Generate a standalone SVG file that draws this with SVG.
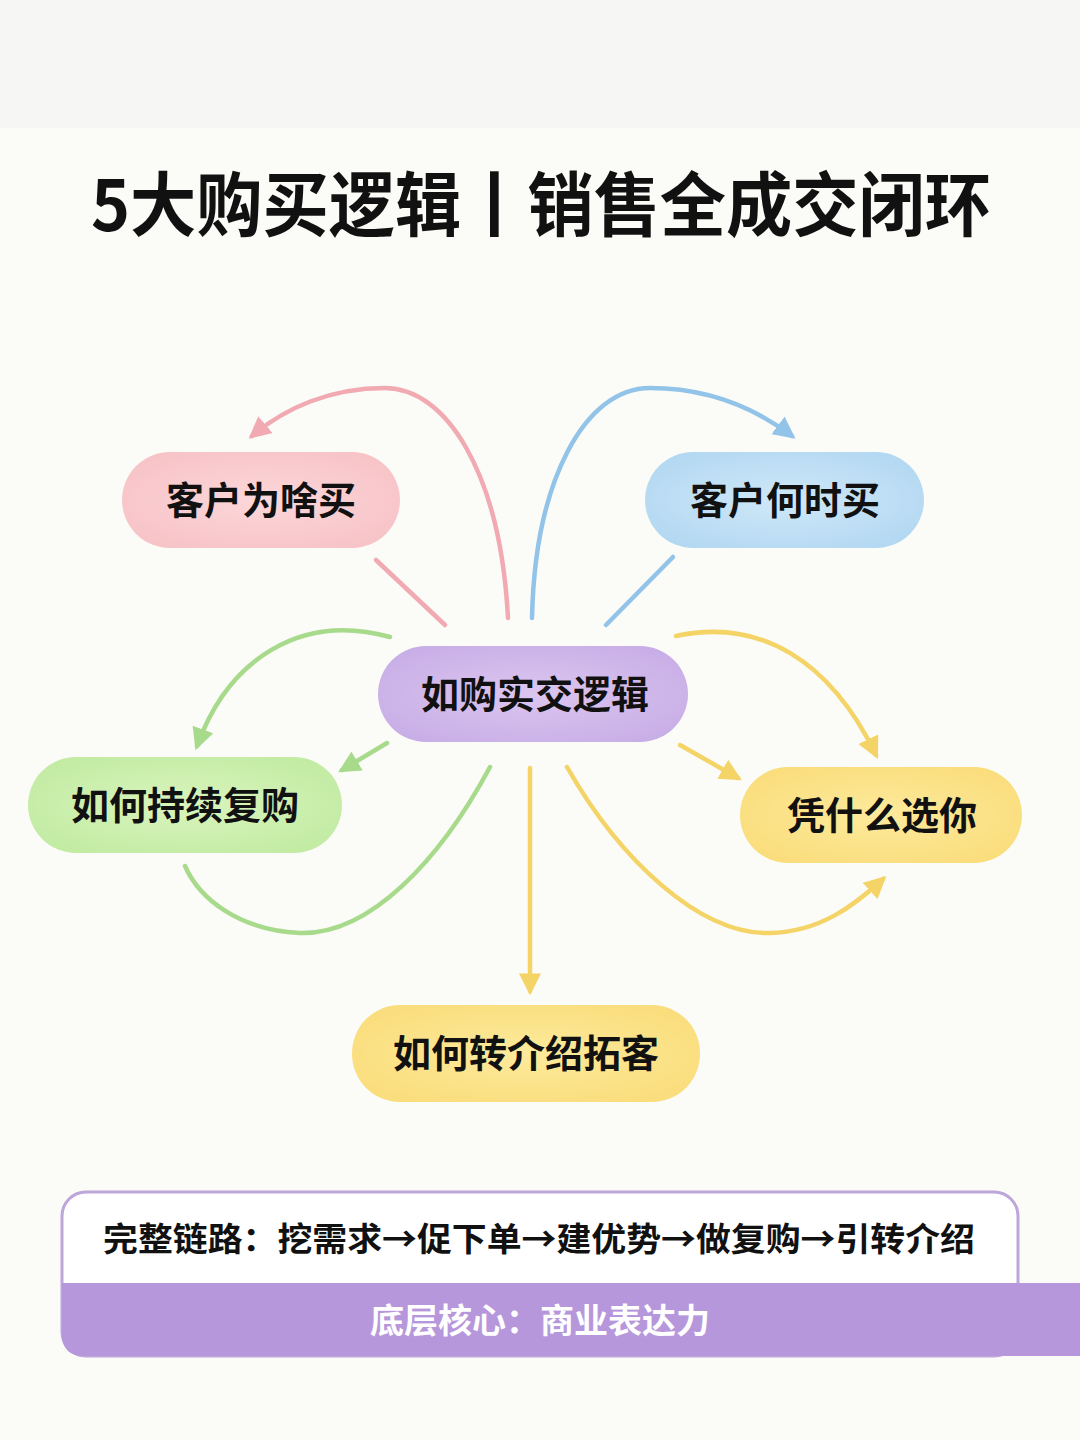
<svg xmlns="http://www.w3.org/2000/svg" width="1080" height="1440" viewBox="0 0 1080 1440">
<defs>
<style>
.t{font-family:"Noto Sans CJK SC","Noto Sans",sans-serif;font-weight:700;fill:#111;text-anchor:middle}
.c{fill:none;stroke-width:4.5;stroke-linecap:round}
.pk{stroke:#f1aab2}.bl{stroke:#92c3e8}.gr{stroke:#a8da8c}.yl{stroke:#f4d466}
</style>
<radialGradient id="gPink" cx="0.5" cy="0.5" r="0.6"><stop offset="0" stop-color="#fcd7d9"/><stop offset="1" stop-color="#f7c3c7"/></radialGradient>
<radialGradient id="gBlue" cx="0.5" cy="0.5" r="0.6"><stop offset="0" stop-color="#cfe8f8"/><stop offset="1" stop-color="#b3d8f2"/></radialGradient>
<radialGradient id="gPur" cx="0.5" cy="0.5" r="0.6"><stop offset="0" stop-color="#dcc6f0"/><stop offset="1" stop-color="#c8aee6"/></radialGradient>
<radialGradient id="gGreen" cx="0.5" cy="0.5" r="0.6"><stop offset="0" stop-color="#d9f5bd"/><stop offset="1" stop-color="#c2eba3"/></radialGradient>
<radialGradient id="gYel" cx="0.5" cy="0.5" r="0.6"><stop offset="0" stop-color="#fdea9c"/><stop offset="1" stop-color="#fadd7c"/></radialGradient>
<marker id="aPk" viewBox="0 0 10 10" refX="8" refY="5" markerWidth="22" markerHeight="22" markerUnits="userSpaceOnUse" orient="auto"><path d="M0,0 L10,5 L0,10 Z" fill="#f1aab2"/></marker>
<marker id="aBl" viewBox="0 0 10 10" refX="8" refY="5" markerWidth="22" markerHeight="22" markerUnits="userSpaceOnUse" orient="auto"><path d="M0,0 L10,5 L0,10 Z" fill="#92c3e8"/></marker>
<marker id="aGr" viewBox="0 0 10 10" refX="8" refY="5" markerWidth="22" markerHeight="22" markerUnits="userSpaceOnUse" orient="auto"><path d="M0,0 L10,5 L0,10 Z" fill="#a8da8c"/></marker>
<marker id="aYl" viewBox="0 0 10 10" refX="8" refY="5" markerWidth="22" markerHeight="22" markerUnits="userSpaceOnUse" orient="auto"><path d="M0,0 L10,5 L0,10 Z" fill="#f4d466"/></marker>
</defs>
<rect x="0" y="0" width="1080" height="1440" fill="#fbfbf7"/>
<rect x="0" y="0" width="1080" height="128" fill="#f6f6f4"/>
<g id="title">
<text class="t" x="541" y="231" font-size="70" textLength="900" lengthAdjust="spacingAndGlyphs">5大购买逻辑丨销售全成交闭环</text>
</g>
<g id="connectors">
<path class="c pk" d="M508,618 C500,470 445,388 385,388 C330,388 285,408 252,436" marker-end="url(#aPk)"/>
<path class="c pk" d="M376,560 L445,625"/>
<path class="c bl" d="M532,618 C535,480 585,388 650,388 C710,388 755,408 792,436" marker-end="url(#aBl)"/>
<path class="c bl" d="M673,557 L606,625"/>
<path class="c gr" d="M390,637 C300,612 228,660 197,746" marker-end="url(#aGr)"/>
<path class="c gr" d="M387,743 L342,770" marker-end="url(#aGr)"/>
<path class="c gr" d="M490,767 C440,860 370,935 300,933 C240,930 200,900 185,866"/>
<path class="c yl" d="M676,636 C760,618 830,660 876,755" marker-end="url(#aYl)"/>
<path class="c yl" d="M680,745 L738,778" marker-end="url(#aYl)"/>
<path class="c yl" d="M567,767 C620,860 700,935 770,933 C820,932 855,905 883,879" marker-end="url(#aYl)"/>
<path class="c yl" d="M530,768 L530,991" marker-end="url(#aYl)"/>
</g>
<g id="node-why">
<rect x="122" y="452" width="278" height="96" rx="48" fill="url(#gPink)"/>
<text class="t" x="261" y="514" font-size="38">客户为啥买</text>
</g>
<g id="node-when">
<rect x="645" y="452" width="279" height="96" rx="48" fill="url(#gBlue)"/>
<text class="t" x="785" y="514" font-size="38">客户何时买</text>
</g>
<g id="node-center">
<rect x="378" y="646" width="310" height="96" rx="48" fill="url(#gPur)"/>
<text class="t" x="535" y="708" font-size="38">如购实交逻辑</text>
</g>
<g id="node-repeat">
<rect x="28" y="757" width="314" height="96" rx="48" fill="url(#gGreen)"/>
<text class="t" x="185" y="819" font-size="38">如何持续复购</text>
</g>
<g id="node-choose">
<rect x="740" y="767" width="282" height="96" rx="48" fill="url(#gYel)"/>
<text class="t" x="882" y="829" font-size="38">凭什么选你</text>
</g>
<g id="node-referral">
<rect x="352" y="1005" width="348" height="97" rx="48" fill="url(#gYel)"/>
<text class="t" x="526" y="1067" font-size="38">如何转介绍拓客</text>
</g>
<g id="summary">
<rect x="62" y="1192" width="956" height="164" rx="24" fill="#ffffff" stroke="#bca6da" stroke-width="3"/>
<path d="M62,1283 L1080,1283 L1080,1356 L84,1356 Q62,1356 62,1334 Z" fill="#b797db"/>
<text class="t" x="539" y="1251" font-size="33" textLength="872" lengthAdjust="spacingAndGlyphs">完整链路：挖需求→促下单→建优势→做复购→引转介绍</text>
<text class="t" x="540" y="1333" font-size="34" fill="#ffffff" style="fill:#ffffff">底层核心：商业表达力</text>
</g>
</svg>
